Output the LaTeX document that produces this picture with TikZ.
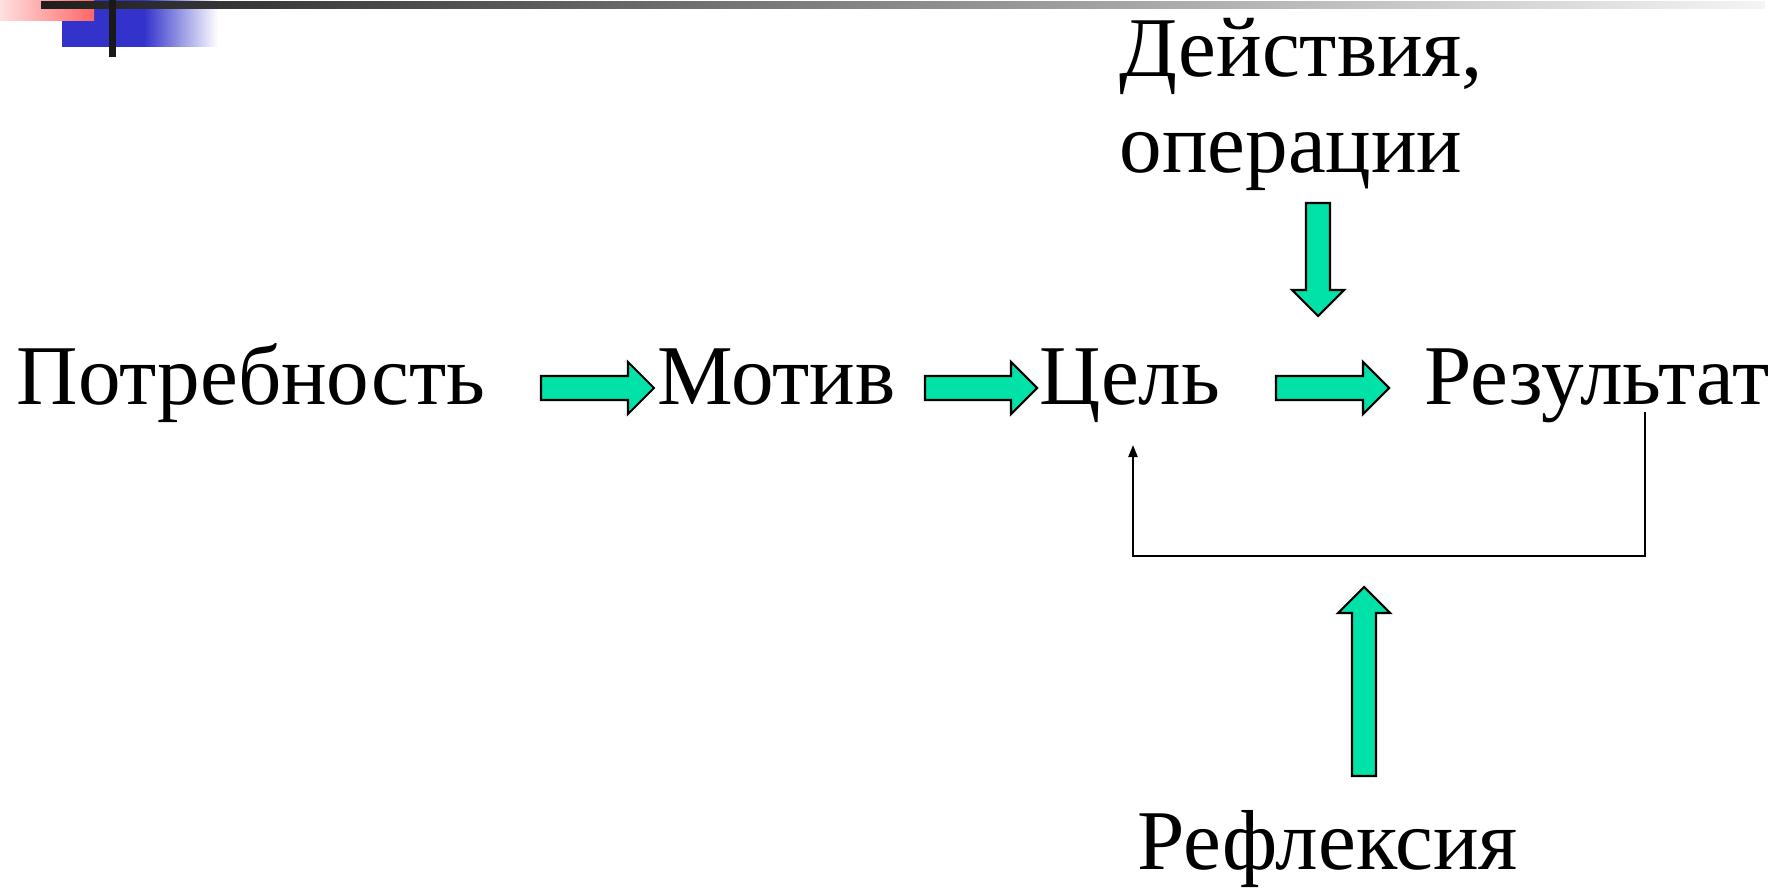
\documentclass[tikz,border=0pt]{standalone}
\usepackage{fontspec}
\setmainfont{Liberation Serif}
\usetikzlibrary{calc,arrows.meta}

\definecolor{arrgreen}{RGB}{0,226,168}
\definecolor{barblue}{RGB}{51,51,204}
\definecolor{barpink}{RGB}{255,102,102}

\tikzset{
	lbl/.style = {inner sep = 0pt, anchor = base west, font = \fontsize{24.2}{27.3}\selectfont},
	fbline/.style = {line width = 0.6pt, -{Triangle[length = 0.12cm, width = 0.09cm]}},
	blockarr/.pic = {
		\draw[fill = arrgreen, line width = 0.6pt] (0, -12) -- ({#1 - 26}, -12) -- ({#1 - 26}, -26) -- (#1, 0)
			-- ({#1 - 26}, 26) -- ({#1 - 26}, 12) -- (0, 12) -- cycle;
	}
}

\begin{document}
\begin{tikzpicture}[x = 0.01cm, y = -0.01cm]
	\useasboundingbox (0, 0) rectangle (1775, 888);
	% corner bars
	\fill[barblue] (62, 0) rectangle (144, 47);
	\shade[left color = barblue, right color = white] (144, 0) rectangle (218, 47);
	\shade[left color = barpink!20, right color = barpink] (0, 0) rectangle (94, 21);
	\shade[left color = black!88, right color = black!4] (41, 2) rectangle (1765, 9);
	\fill[black!90] (109, 0) rectangle (116, 57);

	\node[lbl] (potr) at (16, 404) {Потребность};
	\node[lbl] (motiv) at (657, 405) {Мотив};
	\node[lbl] (cel) at (1039, 404) {Цель};
	\node[lbl] (rez) at (1424, 404) {Результат};
	\node[lbl, align = left] (deistv) at (1119, 173) {Действия,\\операции};
	\node[lbl] (refl) at (1137, 869) {Рефлексия};

	\pic at (541, 388) {blockarr = 113};
	\pic at (925, 388) {blockarr = 112};
	\pic at (1276, 388) {blockarr = 113};
	\pic[rotate = -90] at (1318, 203) {blockarr = 113};
	\pic[rotate = 90] at (1364, 776) {blockarr = 189};

	\draw[fbline] ($(rez.base west) + (221, 8)$) -- ++(0, 144) -| ($(cel.base west) + (94, 41)$);
\end{tikzpicture}
\end{document}
